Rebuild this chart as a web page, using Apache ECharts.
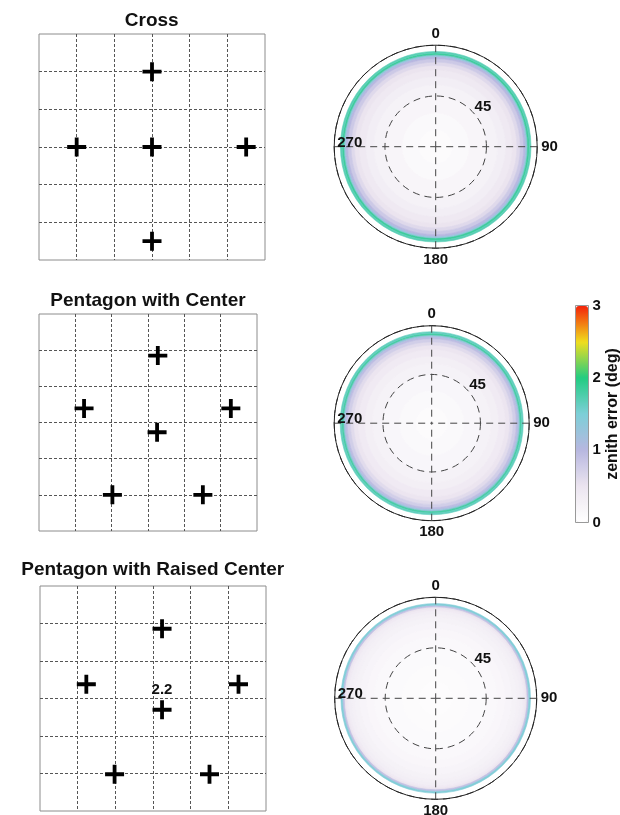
<!DOCTYPE html>
<html>
<head>
<meta charset="utf-8">
<script src="https://cdn.jsdelivr.net/npm/echarts@6/dist/echarts.min.js"></script>
<style>
html,body{margin:0;padding:0;background:#fff;}
#chart{width:620px;height:815px;}
</style>
</head>
<body>
<div id="chart"></div>
<script>
// ---------- data ----------
const panelTitles = ['Cross', 'Pentagon with Center', 'Pentagon with Raised Center'];

const crossX = [0, -2, 0, 2.5, 0];
const crossY = [2, 0, 0, 0, -2.5];

const pentX = [0.27, -1.76, 2.28, 0.25, -0.98, 1.51];
const pentY = [1.85, 0.39, 0.39, -0.27, -2.0, -2.0];

const raisedX = [0.24, -1.77, 2.27, 0.24, -1.02, 1.5];
const raisedY = [1.86, 0.38, 0.38, -0.3, -2.02, -2.02];
const raisedIndex = 3;
const raisedHeight = '2.2';

// zenith-angle bin edges (deg) and mean zenith error per bin (deg)
const zenithEdges = [0, 15, 30, 45, 55, 62, 68, 72, 75, 78, 80, 81.5, 83, 84.5];
const crossErr    = [0.08, 0.12, 0.18, 0.25, 0.32, 0.4, 0.5, 0.62, 0.8, 1.0, 1.3, 1.85, 1.7];
const pentErr     = [0.08, 0.12, 0.17, 0.24, 0.3, 0.38, 0.48, 0.6, 0.75, 0.95, 1.25, 1.8, 1.65];
const raisedErr   = [0.05, 0.08, 0.1, 0.13, 0.16, 0.2, 0.24, 0.28, 0.32, 0.38, 0.5, 0.9, 1.45];

const angleTicks = [0, 90, 180, 270];
const radialTicks = [45];
const colorTicks = [0, 1, 2, 3];
const colorbarLabel = 'zenith error (deg)';

// ---------- helpers ----------
const FONT = 'Liberation Sans, Arial, Helvetica, sans-serif';
const plusPath = 'path://M4,0H6V4H10V6H6V10H4V6H0V4H4Z';

function pts(xs, ys) { return xs.map((x, i) => [x, ys[i]]); }
function rings(err) { return err.map((e, i) => [zenithEdges[i], zenithEdges[i + 1], e]); }

const gridRects = [
  {left: 39, top: 34, width: 226, height: 226},
  {left: 39, top: 314, width: 218, height: 217},
  {left: 40, top: 586, width: 226, height: 225}
];
const polarDefs = [
  {center: [435.7, 146.7], radius: 101.5},
  {center: [431.7, 423.2], radius: 97.5},
  {center: [435.7, 698.3], radius: 101}
];
const titlePos = [[151.7, 11], [148, 291], [152.7, 560]];

const cartAxis = {
  type: 'value', min: -3, max: 3, interval: 1,
  axisLine: {show: false}, axisTick: {show: false}, axisLabel: {show: false},
  splitLine: {show: true, showMinLine: false, showMaxLine: false,
    lineStyle: {color: '#555', width: 1, type: [3, 2]}}
};

const grids = gridRects.map(r => Object.assign({show: true, borderColor: '#8c8c8c', borderWidth: 1,
  backgroundColor: 'transparent', containLabel: false, outerBoundsMode: 'none'}, r));
grids.push({left: 575.5, top: 305.5, width: 13, height: 217, show: true, borderColor: '#999', borderWidth: 1,
  backgroundColor: 'transparent', containLabel: false, outerBoundsMode: 'none'});

const xAxes = [0, 1, 2].map(i => Object.assign({gridIndex: i}, cartAxis));
const yAxes = [0, 1, 2].map(i => Object.assign({gridIndex: i}, cartAxis));
xAxes.push({gridIndex: 3, type: 'value', min: 0, max: 1, show: false});
yAxes.push({gridIndex: 3, type: 'value', min: colorTicks[0], max: colorTicks[colorTicks.length - 1], interval: 1,
  position: 'right',
  axisLine: {show: false}, axisTick: {show: false}, splitLine: {show: false},
  axisLabel: {margin: 4, fontFamily: FONT, fontWeight: 'bold', fontSize: 15, color: '#111'},
  name: colorbarLabel, nameLocation: 'middle', nameRotate: 90, nameGap: 16, nameMoveOverlap: false,
  nameTextStyle: {fontFamily: FONT, fontWeight: 'bold', fontSize: 16, color: '#111'}
});

const polars = polarDefs.map(p => ({center: p.center, radius: p.radius}));
const angleAxes = polarDefs.map((p, i) => ({
  polarIndex: i, type: 'value', min: 0, max: 360, interval: 90, startAngle: 90, clockwise: true, z: 5,
  axisLine: {show: true, lineStyle: {color: '#222', width: 1}},
  axisTick: {show: false},
  axisLabel: {show: true, margin: 4, fontFamily: FONT, fontWeight: 'bold', fontSize: 15, color: '#111',
    formatter: v => (angleTicks.indexOf(v) >= 0 && v !== 270) ? String(v) : ''},
  splitLine: {show: true, lineStyle: {color: '#444', width: 1, type: [7, 5]}}
}));
const radiusAxes = polarDefs.map((p, i) => ({
  polarIndex: i, type: 'value', min: 0, max: 90, interval: 45, z: 5,
  axisLine: {show: false}, axisTick: {show: false}, axisLabel: {show: false},
  splitLine: {show: true, lineStyle: {color: '#444', width: 1, type: [7, 5]}}
}));

function ringRender(params, api) {
  const cs = params.coordSys;
  const cx = cs.cx, cy = cs.cy;
  const p0 = api.coord([api.value(0), 0]);
  const p1 = api.coord([api.value(1), 0]);
  const r0 = Math.hypot(p0[0] - cx, p0[1] - cy);
  const r = Math.hypot(p1[0] - cx, p1[1] - cy);
  const color = api.visual('color');
  return {
    type: 'sector',
    shape: {cx: cx, cy: cy, r0: r0, r: r, startAngle: 0, endAngle: Math.PI * 2},
    style: {fill: color, stroke: color, lineWidth: 0.6}
  };
}

const scatterBase = {
  type: 'scatter', symbol: plusPath, symbolSize: 19,
  itemStyle: {color: '#000', opacity: 1}, silent: true
};

const labelStyle = {fontFamily: FONT, fontWeight: 'bold', fontSize: 15, color: '#111', opacity: 1};

const series = [
  Object.assign({}, scatterBase, {xAxisIndex: 0, yAxisIndex: 0, data: pts(crossX, crossY)}),
  Object.assign({}, scatterBase, {xAxisIndex: 1, yAxisIndex: 1, data: pts(pentX, pentY)}),
  Object.assign({}, scatterBase, {xAxisIndex: 2, yAxisIndex: 2,
    data: pts(raisedX, raisedY).map((d, i) => i === raisedIndex ? {
      value: d,
      label: Object.assign({show: true, position: 'top', distance: 3, formatter: raisedHeight}, labelStyle)
    } : d)})
];
[crossErr, pentErr, raisedErr].forEach((err, i) => {
  series.push({
    type: 'custom', coordinateSystem: 'polar', polarIndex: i, silent: true, z: 1,
    renderItem: ringRender, encode: {radius: 0, angle: 1},
    data: rings(err)
  });
});
[0, 1, 2].forEach(i => {
  series.push({
    type: 'scatter', coordinateSystem: 'polar', polarIndex: i, silent: true, z: 6,
    symbol: 'circle', symbolSize: 0.01, itemStyle: {color: '#fff'},
    data: [[radialTicks[0], 45, String(radialTicks[0])], [90, 270, String(angleTicks[3])]],
    label: Object.assign({show: true, position: 'right', distance: 0, offset: [3, -4],
      formatter: p => p.value[2]}, labelStyle)
  });
});

const option = {
  backgroundColor: '#fff',
  animation: false,
  title: panelTitles.map((t, i) => ({
    text: t, left: titlePos[i][0], top: titlePos[i][1], textAlign: 'center', padding: 0,
    textStyle: {fontFamily: FONT, fontWeight: 'bold', fontSize: 19, color: '#111'}
  })),
  grid: grids,
  xAxis: xAxes,
  yAxis: yAxes,
  polar: polars,
  angleAxis: angleAxes,
  radiusAxis: radiusAxes,
  visualMap: {
    type: 'continuous', min: 0, max: 3, dimension: 2, seriesIndex: [3, 4, 5],
    calculable: false, left: 576, top: 306, itemWidth: 12, itemHeight: 216, padding: 0,
    text: null, showLabel: false,
    inRange: {color: ['#ffffff', '#ebe4ef', '#b7b7e0', '#7dcfd7', '#22cc82', '#f0dd1e', '#f3230a']}
  },
  series: series
};

const chart = echarts.init(document.getElementById('chart'), null, {renderer: 'canvas'});
chart.setOption(option);
</script>
</body>
</html>
